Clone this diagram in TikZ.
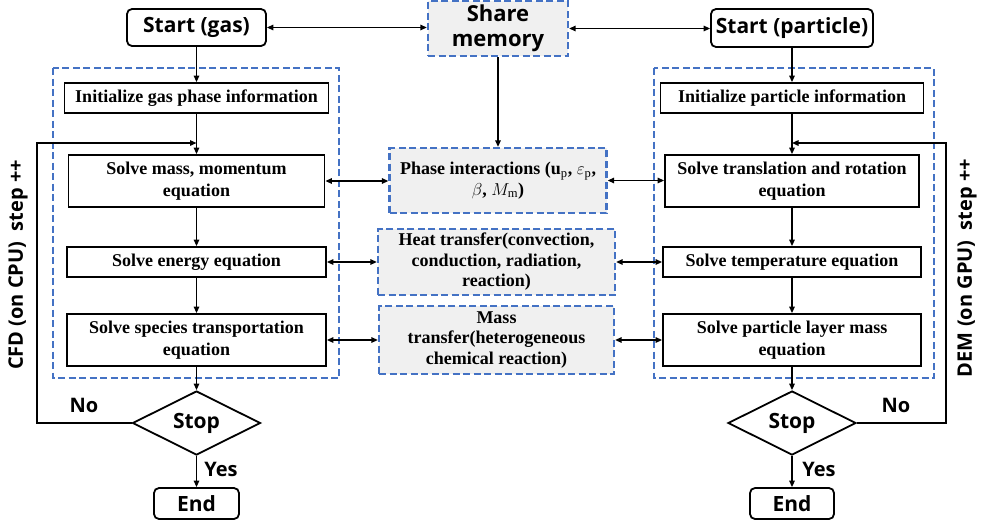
\documentclass[tikz,border=0pt]{standalone}
\usepackage{fontspec}
\setmainfont{Liberation Serif}
\newfontfamily\hsans{Open Sans}
\usetikzlibrary{shapes.geometric,arrows.meta}
\definecolor{dblue}{HTML}{4472C4}
\definecolor{lgray}{HTML}{F0F0F0}
\begin{document}
\begin{tikzpicture}[x=1pt,y=-1pt,
  box/.style={draw,line width=1.8pt,inner sep=0pt,align=center,font=\fontsize{18}{21.5}\selectfont\bfseries},
  term/.style={draw,line width=1.8pt,rounded corners=5pt,inner sep=0pt,align=center,font=\hsans\fontsize{21}{25}\selectfont\bfseries},
  mid/.style={draw=dblue,dash pattern=on 7pt off 3.5pt,line width=2.3pt,fill=lgray,inner sep=0pt,align=center,font=\fontsize{18}{20.5}\selectfont\bfseries},
  cont/.style={draw=dblue,dash pattern=on 7pt off 3.5pt,line width=2.3pt},
  dec/.style={draw,diamond,aspect=2,line width=1.8pt,inner sep=0pt,minimum width=128pt,minimum height=64pt,font=\hsans\fontsize{21}{25}\selectfont\bfseries},
  ar/.style={-{Triangle[length=6.5pt,width=5.5pt]},line width=1.4pt},
  dar/.style={{Triangle[length=6.5pt,width=5.5pt]}-{Triangle[length=6.5pt,width=5.5pt]},line width=1.4pt},
  lbl/.style={font=\hsans\fontsize{20}{24}\selectfont\bfseries,inner sep=0pt}
]
\useasboundingbox (0,0) rectangle (981,528);

% containers
\draw[cont] (53,68) rectangle (339,378);
\draw[cont] (654,68) rectangle (934,378);

% top row
\node[term,minimum width=139pt,minimum height=37pt] (sg) at (196.5,27.5) {Start (gas)};
\node[mid,font=\hsans\fontsize{22}{25}\selectfont\bfseries,minimum width=140pt,minimum height=55pt] (sm) at (498,28.5) {Share\\memory};
\node[term,minimum width=162pt,minimum height=38pt] (sp) at (792,28) {Start (particle)};

% left column
\node[box,minimum width=264pt,minimum height=30pt] (ig) at (196.5,98) {Initialize gas phase information};
\node[box,minimum width=256pt,minimum height=52pt] (mm) at (196.5,181) {Solve mass, momentum\\equation};
\node[box,minimum width=259pt,minimum height=30pt] (en) at (196.5,262) {Solve energy equation};
\node[box,minimum width=259pt,minimum height=52pt] (sst) at (196.5,340) {Solve species transportation\\equation};
\node[dec] (stl) at (196.5,423) {Stop};
\node[term,minimum width=85pt,minimum height=31pt] (edl) at (196.5,503.5) {End};

% right column
\node[box,minimum width=263pt,minimum height=30pt] (ip) at (792,98) {Initialize particle information};
\node[box,minimum width=254pt,minimum height=52pt] (tr) at (792,181) {Solve translation and rotation\\equation};
\node[box,minimum width=258pt,minimum height=30pt] (te) at (792,262) {Solve temperature equation};
\node[box,minimum width=258pt,minimum height=52pt] (pl) at (792,340) {Solve particle layer mass\\equation};
\node[dec] (str) at (792,423) {Stop};
\node[term,minimum width=84pt,minimum height=31pt] (edr) at (792,503.5) {End};

% middle column
\node[mid,minimum width=217pt,minimum height=65pt] (ph) at (498,180.5) {Phase interactions (\textbf{u}$_{\mathrm{p}}$, $\varepsilon_{\mathrm{p}}$,\\$\beta$, $M_{\mathrm{m}}$)};
\node[mid,minimum width=237pt,minimum height=66pt] (ht) at (496.5,262) {Heat transfer(convection,\\conduction, radiation,\\reaction)};
\node[mid,minimum width=235pt,minimum height=68pt] (mt) at (496.5,340) {Mass\\transfer(heterogeneous\\chemical reaction)};

% top arrows
\draw[dar] (sg.east) -- (sg.east -| sm.west);
\draw[dar] (sm.east) -- (sm.east -| sp.west);
\draw[ar] (sm.south) -- (ph.north);

% vertical flow
\draw[ar] (sg.south) -- (ig.north);
\draw[ar] (ig.south) -- (mm.north);
\draw[ar] (mm.south) -- (en.north);
\draw[ar] (en.south) -- (sst.north);
\draw[ar] (sst.south) -- (stl.north);
\draw[ar] (stl.south) -- (edl.north);
\draw[ar] (sp.south) -- (ip.north);
\draw[ar] (ip.south) -- (tr.north);
\draw[ar] (tr.south) -- (te.north);
\draw[ar] (te.south) -- (pl.north);
\draw[ar] (pl.south) -- (str.north);
\draw[ar] (str.south) -- (edr.north);

% interactions
\draw[dar] (mm.east) -- (mm.east -| ph.west);
\draw[dar] (ph.east) -- (ph.east -| tr.west);
\draw[dar] (en.east) -- (en.east -| ht.west);
\draw[dar] (ht.east) -- (ht.east -| te.west);
\draw[dar] (sst.east) -- (sst.east -| mt.west);
\draw[dar] (mt.east) -- (mt.east -| pl.west);

% loops
\coordinate (lx) at (37,143);
\coordinate (jl) at (196.5,143);
\coordinate (rx) at (946,143);
\coordinate (jr) at (792,143);
\draw[ar] (stl.west) -| (lx) -- (jl);
\draw[ar] (str.east) -| (rx) -- (jr);

% labels
\node[lbl] (nol) at (84,405) {No};
\node[lbl] (yesl) at (221,469) {Yes};
\node[lbl] (nor) at (896,405) {No};
\node[lbl] (yesr) at (819,469) {Yes};
\node[lbl,rotate=90] (cfd) at (18,265) {CFD (on CPU)\ \ step ++};
\node[lbl,rotate=90] (dem) at (967,268) {DEM (on GPU)\ \ step ++};
\end{tikzpicture}
\end{document}
